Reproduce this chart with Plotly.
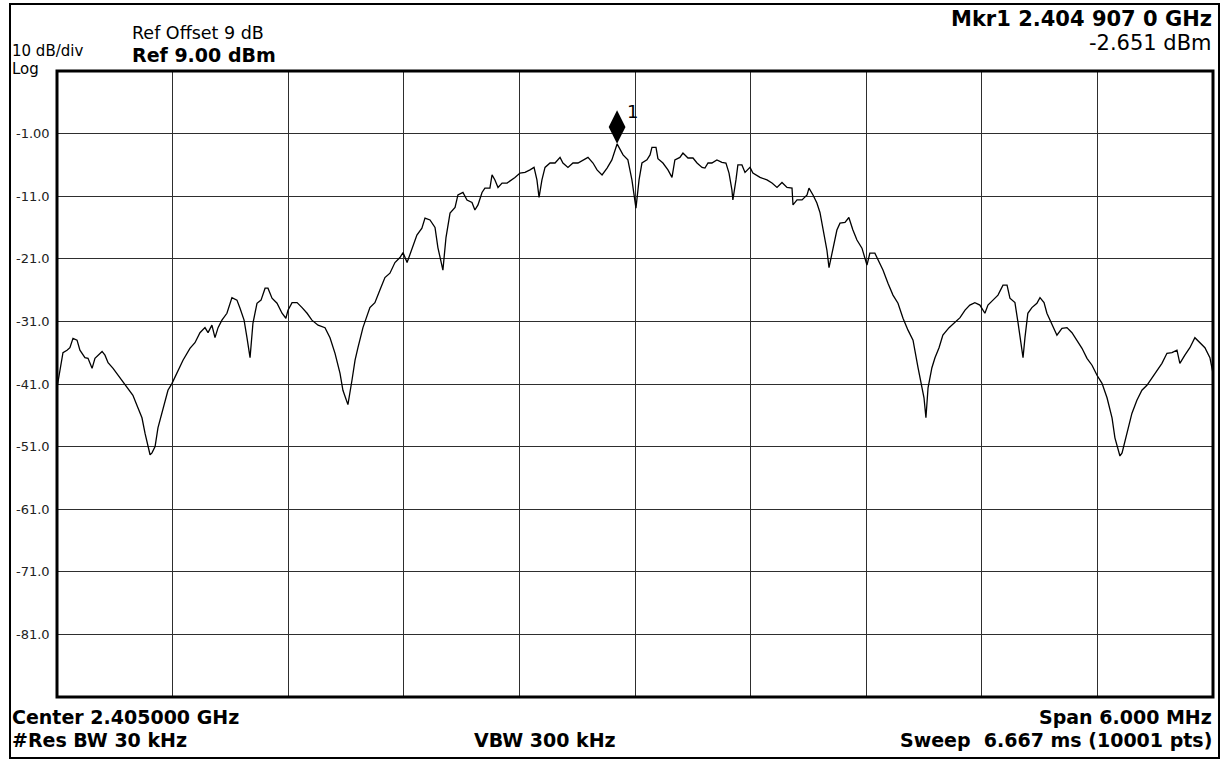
import plotly.graph_objects as go

# ---------------- data ----------------
start_mhz = 2402.0
span_mhz = 6.0
ref_level_dbm = 9.0
db_per_div = 10.0

freq_offset_mhz = [
    0.000, 0.016, 0.031, 0.052, 0.067, 0.083, 0.104, 0.119, 0.145, 0.161,
    0.182, 0.197, 0.213, 0.234, 0.249, 0.265, 0.291, 0.317, 0.343, 0.368,
    0.394, 0.420, 0.441, 0.457, 0.472, 0.483, 0.493, 0.509, 0.524, 0.550,
    0.576, 0.597, 0.623, 0.654, 0.690, 0.716, 0.742, 0.768, 0.784, 0.804,
    0.820, 0.836, 0.856, 0.882, 0.908, 0.934, 0.950, 0.971, 0.986, 1.002,
    1.017, 1.038, 1.059, 1.080, 1.095, 1.116, 1.142, 1.168, 1.188, 1.199,
    1.220, 1.246, 1.272, 1.298, 1.323, 1.355, 1.391, 1.417, 1.443, 1.469,
    1.484, 1.510, 1.531, 1.547, 1.562, 1.588, 1.624, 1.650, 1.676, 1.702,
    1.728, 1.754, 1.780, 1.796, 1.817, 1.842, 1.868, 1.894, 1.910, 1.936,
    1.962, 1.977, 2.003, 2.019, 2.040, 2.066, 2.081, 2.107, 2.128, 2.154,
    2.169, 2.185, 2.206, 2.221, 2.247, 2.258, 2.273, 2.289, 2.310, 2.336,
    2.361, 2.377, 2.403, 2.429, 2.455, 2.476, 2.491, 2.502, 2.517, 2.533,
    2.559, 2.585, 2.611, 2.626, 2.652, 2.678, 2.704, 2.730, 2.756, 2.782,
    2.803, 2.829, 2.855, 2.880, 2.907, 2.938, 2.963, 2.984, 2.995, 3.005,
    3.021, 3.036, 3.062, 3.078, 3.088, 3.109, 3.119, 3.145, 3.171, 3.192,
    3.207, 3.233, 3.249, 3.275, 3.301, 3.322, 3.348, 3.363, 3.379, 3.399,
    3.425, 3.451, 3.472, 3.488, 3.503, 3.508, 3.524, 3.534, 3.555, 3.571,
    3.597, 3.612, 3.649, 3.685, 3.711, 3.737, 3.763, 3.789, 3.815, 3.820,
    3.841, 3.867, 3.893, 3.903, 3.924, 3.944, 3.960, 3.976, 3.996, 4.007,
    4.027, 4.048, 4.064, 4.090, 4.110, 4.131, 4.152, 4.178, 4.204, 4.219,
    4.245, 4.261, 4.287, 4.313, 4.339, 4.365, 4.391, 4.417, 4.443, 4.469,
    4.489, 4.500, 4.510, 4.521, 4.541, 4.557, 4.578, 4.598, 4.630, 4.661,
    4.687, 4.713, 4.738, 4.764, 4.790, 4.816, 4.832, 4.858, 4.884, 4.910,
    4.931, 4.946, 4.972, 4.988, 5.003, 5.014, 5.024, 5.039, 5.060, 5.086,
    5.102, 5.123, 5.138, 5.164, 5.190, 5.216, 5.242, 5.268, 5.294, 5.320,
    5.346, 5.372, 5.398, 5.424, 5.450, 5.476, 5.491, 5.507, 5.517, 5.528,
    5.553, 5.579, 5.605, 5.631, 5.657, 5.683, 5.709, 5.735, 5.761, 5.787,
    5.813, 5.828, 5.854, 5.880, 5.906, 5.932, 5.958, 5.984, 6.000,
]

level_dbm = [
    -41.6, -38.8, -36.0, -35.6, -35.2, -33.7, -34.0, -35.6, -36.8, -36.9,
    -38.5, -36.9, -36.4, -35.8, -36.4, -37.6, -38.5, -39.6, -40.8, -41.7,
    -42.8, -44.8, -46.4, -48.9, -51.2, -52.3, -52.0, -51.0, -48.0, -45.2,
    -42.0, -40.9, -39.3, -37.2, -35.3, -34.4, -32.8, -32.0, -32.8, -31.6,
    -33.6, -32.0, -30.8, -29.7, -27.2, -27.6, -28.9, -30.8, -33.6, -36.8,
    -31.3, -28.1, -27.6, -25.7, -25.7, -27.3, -28.1, -29.7, -30.5, -29.2,
    -28.0, -28.0, -28.8, -29.7, -30.8, -31.6, -32.0, -33.6, -36.1, -39.3,
    -42.0, -44.3, -40.4, -37.2, -35.2, -32.0, -28.8, -28.0, -26.0, -24.0,
    -23.3, -21.6, -20.8, -20.0, -21.6, -19.3, -17.2, -16.1, -14.5, -14.8,
    -16.0, -19.2, -22.8, -17.6, -13.7, -12.8, -10.8, -10.4, -11.6, -12.0,
    -13.2, -12.4, -10.4, -9.7, -9.7, -7.6, -8.4, -9.6, -8.9, -8.9,
    -8.4, -8.0, -7.3, -7.2, -6.8, -6.4, -8.4, -11.2, -8.4, -6.4,
    -5.7, -5.7, -4.8, -5.7, -6.4, -5.7, -5.7, -5.2, -4.8, -5.7,
    -6.8, -7.6, -6.5, -5.2, -2.65, -4.4, -5.2, -8.4, -11.2, -12.9,
    -8.4, -5.7, -5.2, -4.4, -3.2, -3.2, -5.0, -5.7, -6.8, -8.0,
    -5.2, -4.8, -4.1, -4.9, -4.9, -5.7, -6.4, -6.5, -5.7, -5.7,
    -5.2, -5.6, -5.7, -7.3, -10.0, -11.6, -8.4, -6.0, -6.0, -7.2,
    -6.4, -7.3, -8.0, -8.4, -8.9, -9.6, -8.8, -9.6, -9.7, -12.4,
    -11.6, -11.6, -10.8, -9.7, -10.8, -12.1, -13.6, -16.0, -19.6, -22.4,
    -19.2, -16.4, -15.3, -15.2, -14.4, -16.4, -18.0, -19.3, -22.0, -20.1,
    -20.1, -21.2, -22.8, -24.9, -26.8, -28.1, -30.5, -32.4, -34.0, -38.4,
    -41.6, -43.2, -46.4, -41.6, -38.4, -36.8, -35.2, -33.2, -32.0, -31.2,
    -30.4, -29.2, -28.4, -28.0, -28.4, -29.7, -28.4, -27.6, -26.8, -25.2,
    -25.2, -27.3, -28.0, -31.2, -34.5, -36.8, -33.6, -29.7, -28.8, -28.1,
    -27.2, -28.0, -29.7, -31.6, -33.2, -32.1, -32.0, -32.8, -34.0, -35.3,
    -36.9, -38.0, -39.6, -40.9, -43.2, -46.4, -49.6, -51.5, -52.5, -52.0,
    -48.9, -45.7, -43.6, -42.0, -41.2, -40.0, -38.8, -37.7, -36.1, -36.0,
    -35.6, -37.7, -36.4, -35.2, -33.6, -34.4, -35.2, -36.8, -39.3,
]

y_tick_values = [-1, -11, -21, -31, -41, -51, -61, -71, -81]
y_tick_labels = ["-1.00", "-11.0", "-21.0", "-31.0", "-41.0", "-51.0", "-61.0", "-71.0", "-81.0"]

marker_freq_mhz = 2404.907
marker_level_dbm = -2.651

header_texts = {
    "ref_offset": "Ref Offset 9 dB",
    "ref_level": "Ref 9.00 dBm",
    "scale": "10 dB/div",
    "log": "Log",
    "mkr_freq": "Mkr1 2.404 907 0 GHz",
    "mkr_level": "-2.651 dBm",
    "center": "Center 2.405000 GHz",
    "rbw": "#Res BW 30 kHz",
    "vbw": "VBW 300 kHz",
    "span": "Span 6.000 MHz",
    "sweep": "Sweep  6.667 ms (10001 pts)",
}

# ---------------- layout geometry ----------------
W, H = 1226, 760
ML, MR, MT, MB = 57, 13, 71, 63
PW = W - ML - MR
PH = H - MT - MB


def px(x):
    return (x - ML) / PW


def py(y):
    return (H - MB - y) / PH


freq_mhz = [start_mhz + f for f in freq_offset_mhz]
y_top = ref_level_dbm
y_bot = ref_level_dbm - 10 * db_per_div
x_grid = [start_mhz + span_mhz * i / 10 for i in range(1, 10)]

FONT = "DejaVu Sans"

fig = go.Figure()
fig.add_trace(go.Scatter(
    x=freq_mhz, y=level_dbm, mode="lines",
    line=dict(color="black", width=1.3), hoverinfo="skip", showlegend=False,
))

# marker diamond sitting just above the marker point
db_per_px = (y_top - y_bot) / PH
fig.add_trace(go.Scatter(
    x=[marker_freq_mhz], y=[marker_level_dbm + 17 * db_per_px], mode="markers",
    marker=dict(symbol="diamond-tall", size=24, color="black", line=dict(width=0)),
    cliponaxis=False, hoverinfo="skip", showlegend=False,
))

annotations = []


def txt(text, x, y, xanchor="left", size=17, bold=False, color="black"):
    annotations.append(dict(
        text=f"<b>{text}</b>" if bold else text,
        x=px(x), y=py(y), xref="paper", yref="paper",
        xanchor=xanchor, yanchor="middle", showarrow=False,
        font=dict(family=FONT, size=size, color=color),
    ))


txt(header_texts["ref_offset"], 130, 33, size=17.5)
txt(header_texts["ref_level"], 130, 55, size=19, bold=True)
txt(header_texts["scale"], 10, 51, size=15)
txt(header_texts["log"], 10, 69, size=15)
txt(header_texts["mkr_freq"], 1214, 19, xanchor="right", size=21, bold=True)
txt(header_texts["mkr_level"], 1214, 43, xanchor="right", size=21)
txt(header_texts["center"], 10, 717, size=19, bold=True)
txt(header_texts["rbw"], 10, 740, size=19, bold=True)
txt(header_texts["vbw"], 545, 740, xanchor="center", size=19, bold=True)
txt(header_texts["span"], 1214, 717, xanchor="right", size=19, bold=True)
txt(header_texts["sweep"], 1214, 740, xanchor="right", size=19, bold=True)

for v, lab in zip(y_tick_values, y_tick_labels):
    annotations.append(dict(
        text=lab, x=px(14), y=v, xref="paper", yref="y",
        xanchor="left", yanchor="middle", showarrow=False,
        font=dict(family=FONT, size=13, color="#222"),
    ))

annotations.append(dict(
    text="1", x=marker_freq_mhz, y=marker_level_dbm, xref="x", yref="y",
    xshift=15, yshift=32, showarrow=False,
    font=dict(family=FONT, size=18, color="black"),
))

shapes = [
    # plot frame
    dict(type="rect", xref="paper", yref="paper", x0=0, x1=1, y0=0, y1=1,
         line=dict(color="black", width=3), layer="above"),
    # outer border
    dict(type="rect", xref="paper", yref="paper",
         x0=px(10), x1=px(1219), y0=py(758), y1=py(4),
         line=dict(color="black", width=2), layer="above"),
]

fig.update_layout(
    width=W, height=H,
    margin=dict(l=ML, r=MR, t=MT, b=MB, pad=0),
    paper_bgcolor="white", plot_bgcolor="white",
    showlegend=False,
    annotations=annotations,
    shapes=shapes,
    xaxis=dict(range=[start_mhz, start_mhz + span_mhz], tickvals=x_grid,
               showticklabels=False, ticks="", showgrid=True,
               gridcolor="#2e2e2e", gridwidth=1.2, zeroline=False,
               showline=False, fixedrange=True),
    yaxis=dict(range=[y_bot, y_top], tickvals=y_tick_values,
               showticklabels=False, ticks="", showgrid=True,
               gridcolor="#2e2e2e", gridwidth=1.2, zeroline=False,
               showline=False, fixedrange=True),
)

fig.write_html("out.html", config={"displayModeBar": False})
